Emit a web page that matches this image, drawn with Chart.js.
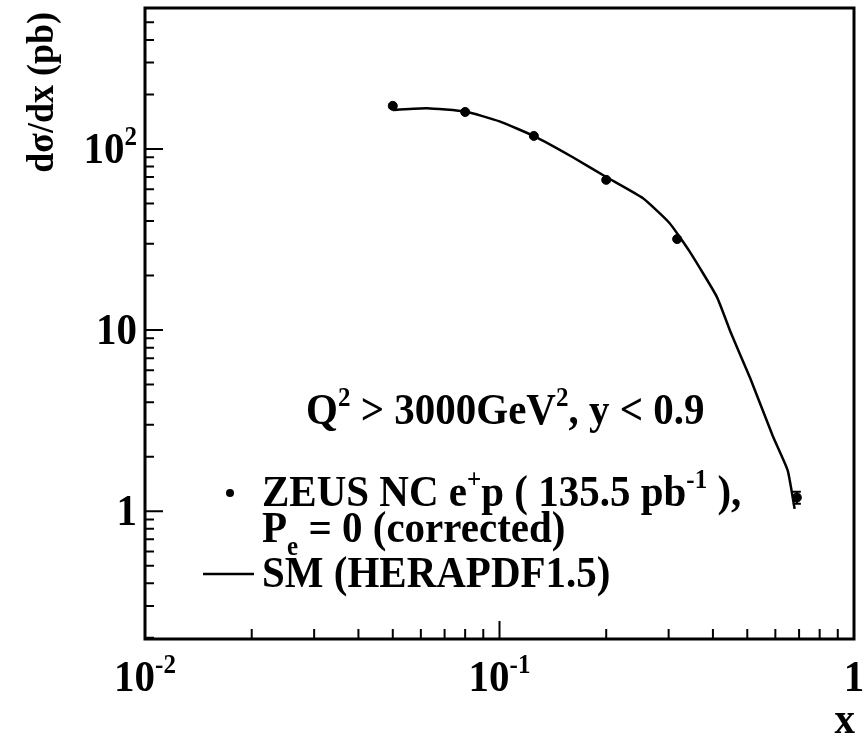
<!DOCTYPE html>
<html lang="en">
<head>
  <meta charset="UTF-8">
  <title>dσ/dx NC e+p</title>
  <script src="https://cdn.jsdelivr.net/npm/chart.js"></script>
  <style>
    body {
      margin: 0;
      background: white;
    }
    canvas {
      display: block;
    }
  </style>
</head>
<body>
  <canvas id="grafico" width="868" height="736"></canvas>

  <script>
    // measured points (x, dσ/dx in pb) and their errors
    const dataX = [0.05, 0.08, 0.125, 0.2, 0.317, 0.69];
    const dataY = [173, 160, 118, 67.5, 31.8, 1.19];
    const dataErr = [4, 3.5, 2.5, 1.5, 0.8, 0.09];

    // SM prediction (HERAPDF1.5)
    const smX = [0.05, 0.0623, 0.08, 0.1, 0.126, 0.161, 0.2, 0.254, 0.302, 0.344, 0.41, 0.45, 0.51, 0.59, 0.65, 0.68];
    const smY = [164, 168, 161, 142, 117, 90, 70, 53.4, 38.9, 27.1, 15.3, 9.6, 5.4, 2.6, 1.68, 1.03];

    // axis labels: [value, base, exponent]
    const xTickLabels = [[0.01, '10', '-2'], [0.1, '10', '-1'], [1, '1', '']];
    const yTickLabels = [[1, '1', ''], [10, '10', ''], [100, '10', '2']];

    const FONT = '"Liberation Serif", "Times New Roman", serif';
    const ESTICA = 1.08; // glyphs a bit taller than wide

    // draws text pieces with superscripts / subscripts
    function drawRich(ctx, parts, x, y, size, align) {
      const small = Math.round(size * 0.62);
      const fontOf = (m) => 'bold ' + (m ? small : size) + 'px ' + FONT;
      let total = 0;
      const widths = parts.map(([t, m]) => {
        ctx.font = fontOf(m);
        const w = ctx.measureText(t).width;
        total += w;
        return w;
      });
      let cx = 0;
      if (align === 'right') cx = -total;
      if (align === 'center') cx = -total / 2;
      ctx.save();
      ctx.translate(x, y);
      ctx.scale(1, ESTICA);
      ctx.textAlign = 'left';
      ctx.textBaseline = 'alphabetic';
      parts.forEach(([t, m], i) => {
        ctx.font = fontOf(m);
        let dy = 0;
        if (m === 'sup') dy = -size * 0.4;
        if (m === 'sub') dy = size * 0.3;
        ctx.fillText(t, cx, dy);
        cx += widths[i];
      });
      ctx.restore();
    }

    const moldura = {
      id: 'moldura',
      afterDatasetsDraw(chart) {
        // error bars on the measured points
        const { ctx, scales: { x, y } } = chart;
        ctx.save();
        ctx.strokeStyle = '#000';
        ctx.lineWidth = 2;
        dataX.forEach((v, i) => {
          const px = x.getPixelForValue(v);
          const top = y.getPixelForValue(dataY[i] + dataErr[i]);
          const bot = y.getPixelForValue(dataY[i] - dataErr[i]);
          ctx.beginPath();
          ctx.moveTo(px, top); ctx.lineTo(px, bot);
          ctx.moveTo(px - 4, top); ctx.lineTo(px + 4, top);
          ctx.moveTo(px - 4, bot); ctx.lineTo(px + 4, bot);
          ctx.stroke();
        });
        ctx.restore();
      },
      afterDraw(chart) {
        const { ctx, chartArea: a, scales: { x, y } } = chart;
        ctx.save();
        ctx.fillStyle = '#000';
        ctx.strokeStyle = '#000';
        ctx.lineWidth = 3;
        ctx.strokeRect(a.left, a.top, a.right - a.left, a.bottom - a.top);

        // ticks inside the frame, major at decades
        ctx.lineWidth = 2;
        ctx.beginPath();
        for (let d = Math.floor(Math.log10(x.min)); d <= Math.ceil(Math.log10(x.max)); d++) {
          for (let m = 1; m <= 9; m++) {
            const v = m * Math.pow(10, d);
            if (v < x.min || v > x.max) continue;
            const px = x.getPixelForValue(v);
            const len = m === 1 ? 18 : 10;
            ctx.moveTo(px, a.bottom); ctx.lineTo(px, a.bottom - len);
          }
        }
        for (let d = Math.floor(Math.log10(y.min)); d <= Math.ceil(Math.log10(y.max)); d++) {
          for (let m = 1; m <= 9; m++) {
            const v = m * Math.pow(10, d);
            if (v < y.min || v > y.max) continue;
            const py = y.getPixelForValue(v);
            const len = m === 1 ? 18 : 9;
            ctx.moveTo(a.left, py); ctx.lineTo(a.left + len, py);
          }
        }
        ctx.stroke();

        // tick labels
        xTickLabels.forEach(([v, b, e]) => {
          drawRich(ctx, e ? [[b, ''], [e, 'sup']] : [[b, '']], x.getPixelForValue(v), 691, 41, 'center');
        });
        yTickLabels.forEach(([v, b, e]) => {
          drawRich(ctx, e ? [[b, ''], [e, 'sup']] : [[b, '']], 137, y.getPixelForValue(v) + 14, 41, 'right');
        });

        // axis titles
        drawRich(ctx, [['x', '']], 855, 733, 41, 'right');
        ctx.save();
        ctx.translate(53, 12);
        ctx.rotate(-Math.PI / 2);
        drawRich(ctx, [['dσ/dx (pb)', '']], 0, 0, 36, 'right');
        ctx.restore();

        // cut and legend
        drawRich(ctx, [['Q', ''], ['2', 'sup'], [' > 3000GeV', ''], ['2', 'sup'], [', y < 0.9', '']], 306, 424, 41, 'left');
        ctx.beginPath();
        ctx.arc(230, 493, 4, 0, Math.PI * 2);
        ctx.fill();
        drawRich(ctx, [['ZEUS NC e', ''], ['+', 'sup'], ['p ( 135.5 pb', ''], ['-1', 'sup'], [' ),', '']], 262, 506, 41, 'left');
        drawRich(ctx, [['P', ''], ['e', 'sub'], [' = 0 (corrected)', '']], 262, 542, 41, 'left');
        ctx.lineWidth = 2.5;
        ctx.beginPath();
        ctx.moveTo(203, 574); ctx.lineTo(254, 574);
        ctx.stroke();
        drawRich(ctx, [['SM (HERAPDF1.5)', '']], 262, 587, 41, 'left');
        ctx.restore();
      }
    };

    new Chart(document.getElementById('grafico'), {
      type: 'scatter',
      data: {
        datasets: [
          {
            label: 'SM (HERAPDF1.5)',
            data: smX.map((v, i) => ({ x: v, y: smY[i] })),
            showLine: true,
            borderColor: '#000',
            borderWidth: 2.5,
            pointRadius: 0,
            tension: 0.15
          },
          {
            label: 'ZEUS NC e+p',
            data: dataX.map((v, i) => ({ x: v, y: dataY[i] })),
            backgroundColor: '#000',
            borderColor: '#000',
            pointRadius: 4.5
          }
        ]
      },
      options: {
        responsive: false,
        animation: false,
        layout: { padding: { left: 0, right: 14, top: 8, bottom: 0 } },
        plugins: { legend: { display: false }, tooltip: { enabled: false } },
        scales: {
          x: {
            type: 'logarithmic',
            min: 0.01,
            max: 1,
            grid: { display: false },
            border: { display: false },
            ticks: { display: false },
            afterFit(scale) { scale.height = 97; }
          },
          y: {
            type: 'logarithmic',
            min: 0.197,
            max: 600,
            grid: { display: false },
            border: { display: false },
            ticks: { display: false },
            afterFit(scale) { scale.width = 145; }
          }
        }
      },
      plugins: [moldura]
    });
  </script>
</body>
</html>
